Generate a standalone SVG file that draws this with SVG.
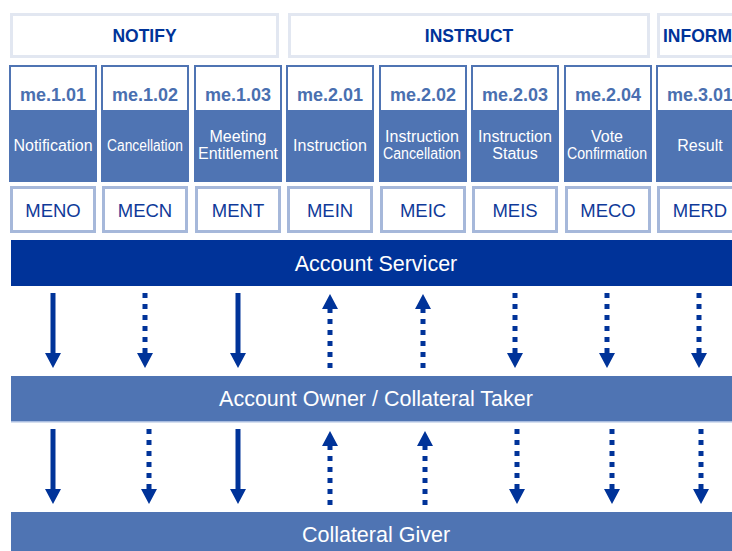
<svg xmlns="http://www.w3.org/2000/svg" width="732" height="551" viewBox="0 0 732 551">
<style>
text{font-family:"Liberation Sans",Arial,sans-serif}
.hdr{fill:#fff;stroke:#e2e7f1;stroke-width:3}
.hdrt{font-size:17.5px;font-weight:bold;fill:#003399;text-anchor:middle}
.cbox{fill:#fff;stroke:#4f74b3;stroke-width:2}
.cband{fill:#4f74b3}
.code{font-size:18px;font-weight:bold;fill:#4a6fb0;text-anchor:middle}
.lbl{font-size:16px;fill:#fff;text-anchor:middle}
.mbox{fill:#fff;stroke:#a6b8da;stroke-width:3}
.mt{font-size:18.5px;fill:#0f3a99;text-anchor:middle}
.bar1{fill:#003399}
.bar2{fill:#4f74b3}
.bart{font-size:21.5px;fill:#fff;text-anchor:middle}
.solid{stroke:#003399;stroke-width:5;fill:none;marker-end:url(#ah)}
.dot{stroke:#003399;stroke-width:5;fill:none;stroke-dasharray:5 6;marker-end:url(#ah)}
</style>
<defs>
<marker id="ah" markerUnits="userSpaceOnUse" markerWidth="16" markerHeight="16" refX="0" refY="8" orient="auto" viewBox="0 0 16 16">
<path d="M0,0 L15,8 L0,16 Z" fill="#003399"/>
</marker>
</defs>

<g id="hdr-notify"><rect class="hdr" x="11.5" y="14.5" width="266" height="42"/><text class="hdrt" x="144.5" y="42">NOTIFY</text></g>
<g id="hdr-instruct"><rect class="hdr" x="289.5" y="14.5" width="359" height="42"/><text class="hdrt" x="469" y="42">INSTRUCT</text></g>
<g id="hdr-inform"><rect class="hdr" x="658.5" y="14.5" width="90" height="42"/><text class="hdrt" x="663" y="42" style="text-anchor:start">INFORM</text></g>

<g id="col-me101"><rect class="cbox" x="10" y="66" width="86" height="115"/><rect class="cband" x="9" y="110" width="88" height="72"/><text class="code" x="53" y="101">me.1.01</text><text class="lbl" x="53" y="151">Notification</text></g>
<g id="col-me102"><rect class="cbox" x="102" y="66" width="86" height="115"/><rect class="cband" x="101" y="110" width="88" height="72"/><text class="code" x="145" y="101">me.1.02</text><text class="lbl" x="145" y="151" textLength="76" lengthAdjust="spacingAndGlyphs">Cancellation</text></g>
<g id="col-me103"><rect class="cbox" x="195" y="66" width="86" height="115"/><rect class="cband" x="194" y="110" width="88" height="72"/><text class="code" x="238" y="101">me.1.03</text><text class="lbl" x="238" y="142">Meeting</text><text class="lbl" x="238" y="159">Entitlement</text></g>
<g id="col-me201"><rect class="cbox" x="287" y="66" width="86" height="115"/><rect class="cband" x="286" y="110" width="88" height="72"/><text class="code" x="330" y="101">me.2.01</text><text class="lbl" x="330" y="151">Instruction</text></g>
<g id="col-me202"><rect class="cbox" x="380" y="66" width="86" height="115"/><rect class="cband" x="379" y="110" width="88" height="72"/><text class="code" x="423" y="101">me.2.02</text><text class="lbl" x="422" y="142">Instruction</text><text class="lbl" x="422" y="159" textLength="78" lengthAdjust="spacingAndGlyphs">Cancellation</text></g>
<g id="col-me203"><rect class="cbox" x="472" y="66" width="86" height="115"/><rect class="cband" x="471" y="110" width="88" height="72"/><text class="code" x="515" y="101">me.2.03</text><text class="lbl" x="515" y="142">Instruction</text><text class="lbl" x="515" y="159">Status</text></g>
<g id="col-me204"><rect class="cbox" x="565" y="66" width="86" height="115"/><rect class="cband" x="564" y="110" width="88" height="72"/><text class="code" x="608" y="101">me.2.04</text><text class="lbl" x="607" y="142">Vote</text><text class="lbl" x="607" y="159" textLength="80" lengthAdjust="spacingAndGlyphs">Confirmation</text></g>
<g id="col-me301"><rect class="cbox" x="657" y="66" width="86" height="115"/><rect class="cband" x="656" y="110" width="88" height="72"/><text class="code" x="700" y="101">me.3.01</text><text class="lbl" x="700" y="151">Result</text></g>

<g id="msg-meno"><rect class="mbox" x="11.5" y="187.5" width="83" height="44"/><text class="mt" x="53" y="217">MENO</text></g>
<g id="msg-mecn"><rect class="mbox" x="103.5" y="187.5" width="83" height="44"/><text class="mt" x="145" y="217">MECN</text></g>
<g id="msg-ment"><rect class="mbox" x="196.5" y="187.5" width="83" height="44"/><text class="mt" x="238" y="217">MENT</text></g>
<g id="msg-mein"><rect class="mbox" x="288.5" y="187.5" width="83" height="44"/><text class="mt" x="330" y="217">MEIN</text></g>
<g id="msg-meic"><rect class="mbox" x="381.5" y="187.5" width="83" height="44"/><text class="mt" x="423" y="217">MEIC</text></g>
<g id="msg-meis"><rect class="mbox" x="473.5" y="187.5" width="83" height="44"/><text class="mt" x="515" y="217">MEIS</text></g>
<g id="msg-meco"><rect class="mbox" x="566.5" y="187.5" width="83" height="44"/><text class="mt" x="608" y="217">MECO</text></g>
<g id="msg-merd"><rect class="mbox" x="658.5" y="187.5" width="83" height="44"/><text class="mt" x="700" y="217">MERD</text></g>

<g id="account-servicer"><rect class="bar1" x="11" y="240" width="721" height="46"/><text class="bart" x="376" y="271">Account Servicer</text></g>
<g id="account-owner"><rect class="bar2" x="11" y="376" width="721" height="46"/><rect x="11" y="421" width="721" height="1.5" fill="#a9bde0"/><text class="bart" x="376" y="406">Account Owner / Collateral Taker</text></g>
<g id="collateral-giver"><rect class="bar2" x="11" y="512" width="721" height="39"/><text class="bart" x="376" y="542">Collateral Giver</text></g>

<g id="connectors">
<line class="solid" x1="53" y1="293" x2="53" y2="353"/>
<line class="dot" x1="145" y1="293" x2="145" y2="353"/>
<line class="solid" x1="238" y1="293" x2="238" y2="353"/>
<line class="dot" x1="330" y1="368" x2="330" y2="309"/>
<line class="dot" x1="423" y1="368" x2="423" y2="309"/>
<line class="dot" x1="515" y1="293" x2="515" y2="353"/>
<line class="dot" x1="607" y1="293" x2="607" y2="353"/>
<line class="dot" x1="699" y1="293" x2="699" y2="353"/>

<line class="solid" x1="53" y1="429" x2="53" y2="489"/>
<line class="dot" x1="149" y1="429" x2="149" y2="489"/>
<line class="solid" x1="238" y1="429" x2="238" y2="489"/>
<line class="dot" x1="330" y1="505" x2="330" y2="446"/>
<line class="dot" x1="425" y1="505" x2="425" y2="446"/>
<line class="dot" x1="517" y1="429" x2="517" y2="489"/>
<line class="dot" x1="612" y1="429" x2="612" y2="489"/>
<line class="dot" x1="701" y1="429" x2="701" y2="489"/>
</g>
</svg>
